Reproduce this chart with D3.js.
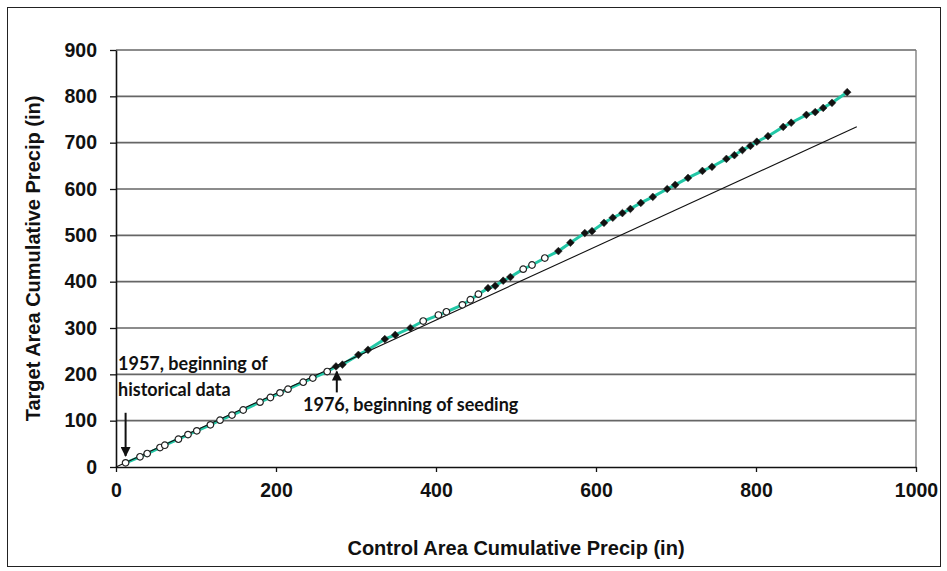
<!DOCTYPE html>
<html lang="en">
<head>
    <meta charset="UTF-8">
    <title>Target vs Control Area Cumulative Precip</title>
    <style>
        body { margin: 0; background: #fff; }
        .axis-title { font-family: "Liberation Sans", Arial, sans-serif; font-weight: bold; font-size: 20px; fill: #111; }
        .tick text { font-family: "Liberation Sans", Arial, sans-serif; font-weight: bold; font-size: 19.5px; fill: #111; }
        .note { font-family: Lato, "Open Sans", sans-serif; font-weight: bold; font-size: 18px; fill: #111; }
    </style>
</head>
<body>
    <svg id="chart" width="947" height="571"></svg>

    <script src="https://d3js.org/d3.v7.min.js"></script>
    <script>
        // Cumulative precipitation, one entry per year starting 1957
        var firstYear = 1957;
        var controlCum = [12, 30, 39, 55, 61, 78, 90, 101, 118, 130, 145, 159, 180, 193, 205, 215, 234, 246, 264,
            275, 283, 303, 315, 336, 349, 368, 384, 403, 413, 433, 443, 453, 465, 474, 484, 493, 509, 520, 536,
            553, 568, 586, 595, 610, 621, 633, 643, 656, 671, 689, 699, 715, 733, 745, 763, 773, 783, 793, 801,
            815, 834, 844, 863, 874, 884, 895, 914];
        var targetCum = [9, 22, 29, 42, 47, 60, 70, 78, 91, 101, 112, 123, 140, 150, 160, 168, 183, 192, 206,
            217, 221, 242, 253, 276, 285, 300, 315, 328, 335, 350, 361, 373, 386, 391, 402, 410, 427, 436, 451,
            466, 484, 505, 509, 527, 538, 548, 557, 570, 583, 600, 609, 624, 639, 648, 665, 673, 684, 693, 702,
            714, 734, 743, 760, 766, 775, 786, 809];
        // 'o' = open circle (not seeded), 'f' = filled diamond (seeded)
        var markerType = ['o','o','o','o','o','o','o','o','o','o','o','o','o','o','o','o','o','o','o',
            'f','f','f','f','f','f','f','o','o','o','o','o','o','f','f','f','f','o','o','o',
            'f','f','f','f','f','f','f','f','f','f','f','f','f','f','f','f','f','f','f','f',
            'f','f','f','f','f','f','f','f'];

        // historical regression line (target = slope * control)
        var regSlope = 0.793;
        var regEnd = 926;

        var xTicks = [0, 200, 400, 600, 800, 1000];
        var yTicks = [0, 100, 200, 300, 400, 500, 600, 700, 800, 900];

        var points = controlCum.map(function (c, i) {
            return { year: firstYear + i, control: c, target: targetCum[i], type: markerType[i] };
        });

        var svg = d3.select('#chart');
        var plotLeft = 116, plotRight = 916, plotTop = 50, plotBottom = 467;

        var x = d3.scaleLinear().domain([0, 1000]).range([plotLeft, plotRight]);
        var y = d3.scaleLinear().domain([0, 900]).range([plotBottom, plotTop]);

        // outer frame
        svg.append('rect')
            .attr('x', 7.5).attr('y', 7.5)
            .attr('width', 933).attr('height', 559)
            .attr('fill', 'none').attr('stroke', '#222').attr('stroke-width', 1);

        // gridlines
        svg.append('g')
            .selectAll('line')
            .data(yTicks.slice(1))
            .enter()
            .append('line')
            .attr('x1', plotLeft).attr('x2', plotRight)
            .attr('y1', d => y(d)).attr('y2', d => y(d))
            .attr('stroke', '#666').attr('stroke-width', 1.6);

        // right border of plot
        svg.append('line')
            .attr('x1', plotRight).attr('x2', plotRight)
            .attr('y1', plotTop).attr('y2', plotBottom)
            .attr('stroke', '#777').attr('stroke-width', 1.3);

        // axes
        var xAxis = svg.append('g')
            .attr('transform', 'translate(0,' + plotBottom + ')')
            .call(d3.axisBottom(x).tickValues(xTicks).tickFormat(d3.format('d'))
                .tickSize(5).tickSizeOuter(0).tickPadding(11));
        var yAxis = svg.append('g')
            .attr('transform', 'translate(' + plotLeft + ',0)')
            .call(d3.axisLeft(y).tickValues(yTicks).tickFormat(d3.format('d'))
                .tickSize(6).tickSizeOuter(0).tickPadding(13));
        [xAxis, yAxis].forEach(function (a) {
            a.select('.domain').attr('stroke', '#111').attr('stroke-width', 1.6);
            a.selectAll('.tick line').attr('stroke', '#111').attr('stroke-width', 1.3);
        });

        // connecting line through the yearly points
        var line = d3.line().x(d => x(d.control)).y(d => y(d.target));
        svg.append('path')
            .datum(points)
            .attr('d', line)
            .attr('fill', 'none')
            .attr('stroke', '#22c7a6')
            .attr('stroke-width', 3);

        // regression of the historical period
        svg.append('path')
            .datum([0, regEnd])
            .attr('d', d3.line().x(d => x(d)).y(d => y(d * regSlope)))
            .attr('stroke', '#111')
            .attr('stroke-width', 1.1);

        // markers
        var diamond = d3.symbol().type(d3.symbolSquare).size(30)();
        var circle = d3.symbol().type(d3.symbolCircle).size(34)();
        svg.append('g')
            .selectAll('path')
            .data(points)
            .enter()
            .append('path')
            .attr('transform', d => 'translate(' + x(d.control) + ',' + y(d.target) + ')' +
                (d.type === 'f' ? ' rotate(45)' : ''))
            .attr('d', d => d.type === 'f' ? diamond : circle)
            .attr('fill', d => d.type === 'f' ? '#111' : '#fff')
            .attr('stroke', '#222')
            .attr('stroke-width', d => d.type === 'f' ? 0.5 : 1.2);

        // annotations
        svg.append('defs').append('marker')
            .attr('id', 'arrow')
            .attr('viewBox', '0 0 10 10')
            .attr('refX', 9).attr('refY', 5)
            .attr('markerWidth', 5).attr('markerHeight', 5)
            .attr('orient', 'auto')
            .append('path')
            .attr('d', 'M0,0 L10,5 L0,10 z')
            .attr('fill', '#111');

        svg.append('line')
            .attr('x1', x(12)).attr('x2', x(12))
            .attr('y1', y(117)).attr('y2', y(24))
            .attr('stroke', '#111').attr('stroke-width', 2)
            .attr('marker-end', 'url(#arrow)');
        svg.append('line')
            .attr('x1', x(276)).attr('x2', x(276))
            .attr('y1', y(161)).attr('y2', y(206))
            .attr('stroke', '#111').attr('stroke-width', 2)
            .attr('marker-end', 'url(#arrow)');

        svg.append('text').attr('class', 'note').attr('x', 118).attr('y', 370).text('1957, beginning of');
        svg.append('text').attr('class', 'note').attr('x', 118).attr('y', 396).text('historical data');
        svg.append('text').attr('class', 'note').attr('x', 303).attr('y', 411).text('1976, beginning of seeding');

        // axis titles
        svg.append('text')
            .attr('class', 'axis-title')
            .attr('x', (plotLeft + plotRight) / 2)
            .attr('y', 555)
            .attr('text-anchor', 'middle')
            .text('Control Area Cumulative Precip (in)');
        svg.append('text')
            .attr('class', 'axis-title')
            .attr('transform', 'translate(40,' + ((plotTop + plotBottom) / 2) + ') rotate(-90)')
            .attr('text-anchor', 'middle')
            .text('Target Area Cumulative Precip (in)');
    </script>
</body>
</html>
